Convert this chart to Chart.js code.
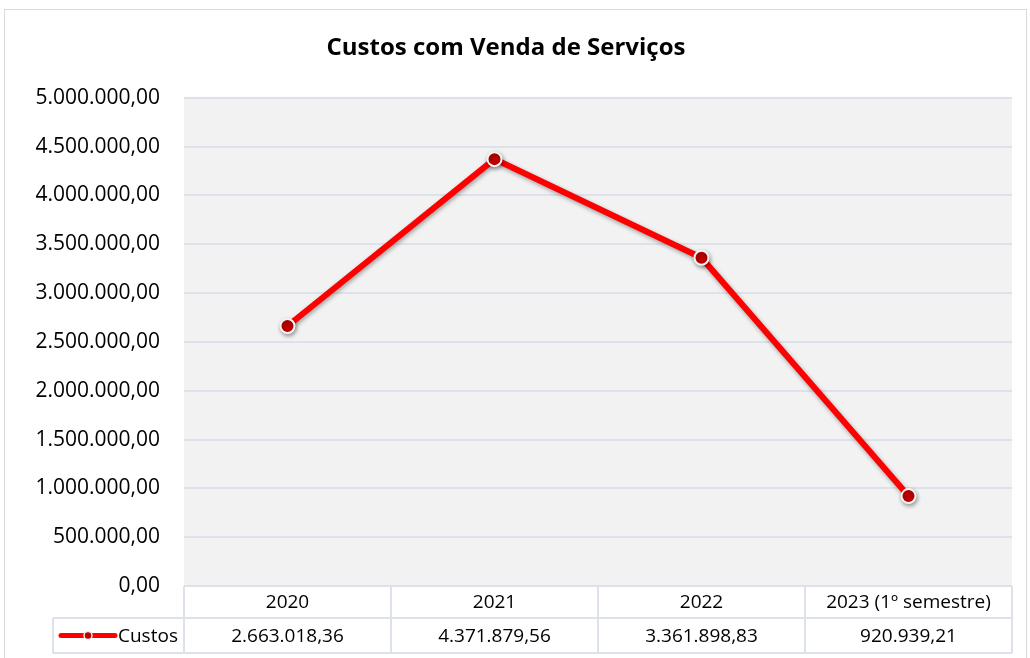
<!DOCTYPE html>
<html>
<head>
<meta charset="utf-8">
<script src="https://cdn.jsdelivr.net/npm/chart.js@4/dist/chart.umd.min.js"></script>
<style>
  body { margin: 0; background: #fff; }
  #wrap { position: relative; width: 1030px; height: 658px; }
</style>
</head>
<body>
<div id="wrap"><canvas id="chartCanvas" width="1030" height="658"></canvas></div>
<script>
const categories = ["2020", "2021", "2022", "2023 (1º semestre)"];
const custos = [2663018.36, 4371879.56, 3361898.83, 920939.21];
const seriesName = "Custos";
const yMin = 0;
const yMax = 5000000;
const yStep = 500000;

const textFont = "'Open Sans', 'Noto Sans', sans-serif";
const gridColor = "#dde1e9";

// 1.234.567,89
function formatBR(v) {
  let parts = v.toFixed(2).split(".");
  let intPart = parts[0].replace(/\B(?=(\d{3})+(?!\d))/g, ".");
  return intPart + "," + parts[1];
}

const backgroundPlugin = {
  id: "plotBackground",
  beforeDraw(chart) {
    const ctx = chart.ctx;
    const a = chart.chartArea;
    ctx.save();
    ctx.fillStyle = "#ffffff";
    ctx.fillRect(0, 0, chart.width, chart.height);
    ctx.strokeStyle = "#d9d9d9";
    ctx.lineWidth = 1;
    ctx.strokeRect(4.5, 9.5, 1022, 660);
    ctx.fillStyle = "#f2f2f2";
    ctx.fillRect(a.left, a.top, a.right - a.left, a.bottom - a.top);
    ctx.restore();
  }
};

const shadowPlugin = {
  id: "pointShadow",
  beforeDatasetDraw(chart) {
    chart.ctx.save();
    chart.ctx.shadowColor = "rgba(0,0,0,0.35)";
    chart.ctx.shadowBlur = 4;
    chart.ctx.shadowOffsetX = 1;
    chart.ctx.shadowOffsetY = 2;
  },
  afterDatasetDraw(chart) {
    chart.ctx.restore();
  }
};

// data table under the plot, columns follow the x scale
const tablePlugin = {
  id: "dataTable",
  afterDraw(chart) {
    const ctx = chart.ctx;
    const a = chart.chartArea;
    const xs = chart.scales.x;
    const n = categories.length;
    const colW = (a.right - a.left) / n;
    const row1Top = a.bottom;
    const row1Bot = a.bottom + 32;
    const row2Bot = a.bottom + 67;
    const legendLeft = 53;

    ctx.save();
    ctx.strokeStyle = gridColor;
    ctx.lineWidth = 2;
    ctx.beginPath();
    ctx.moveTo(a.left, row1Top);
    ctx.lineTo(a.right, row1Top);
    ctx.moveTo(legendLeft, row1Bot);
    ctx.lineTo(a.right, row1Bot);
    ctx.moveTo(legendLeft, row2Bot);
    ctx.lineTo(a.right, row2Bot);
    ctx.moveTo(legendLeft, row1Bot);
    ctx.lineTo(legendLeft, row2Bot);
    for (let i = 0; i <= n; i++) {
      const x = a.left + colW * i;
      ctx.moveTo(x, row1Top);
      ctx.lineTo(x, row2Bot);
    }
    ctx.stroke();

    ctx.fillStyle = "#000000";
    ctx.font = "19px " + textFont;
    ctx.textAlign = "center";
    ctx.textBaseline = "middle";
    for (let i = 0; i < n; i++) {
      const cx = xs.getPixelForValue(i);
      ctx.fillText(categories[i], cx, (row1Top + row1Bot) / 2 + 1);
      ctx.fillText(formatBR(custos[i]), cx, (row1Bot + row2Bot) / 2 + 1);
    }

    // legend key
    const ly = (row1Bot + row2Bot) / 2;
    ctx.strokeStyle = "#ff0000";
    ctx.lineWidth = 5;
    ctx.lineCap = "round";
    ctx.beginPath();
    ctx.moveTo(61, ly);
    ctx.lineTo(115, ly);
    ctx.stroke();
    ctx.beginPath();
    ctx.arc(88, ly, 4, 0, Math.PI * 2);
    ctx.fillStyle = "#c00000";
    ctx.fill();
    ctx.lineWidth = 1.5;
    ctx.strokeStyle = "#eeeeee";
    ctx.stroke();
    ctx.fillStyle = "#000000";
    ctx.textAlign = "left";
    ctx.fillText(seriesName, 118, ly + 1);
    ctx.restore();
  }
};

new Chart(document.getElementById("chartCanvas"), {
  type: "line",
  data: {
    labels: categories,
    datasets: [
      {
        label: seriesName,
        data: custos,
        borderColor: "#ff0000",
        borderWidth: 6,
        pointRadius: 7,
        pointBackgroundColor: "#c00000",
        pointBorderColor: "#f4f4f4",
        pointBorderWidth: 2,
        tension: 0,
      },
    ],
  },
  options: {
    responsive: false,
    animation: false,
    devicePixelRatio: 1,
    layout: {
      padding: { left: 0, right: 18, top: 0, bottom: 72 },
    },
    plugins: {
      legend: { display: false },
      tooltip: { enabled: false },
      title: {
        display: true,
        text: "Custos com Venda de Serviços",
        color: "#000000",
        font: { family: textFont, size: 24, weight: "bold" },
        padding: { top: 34, bottom: 35 },
      },
    },
    scales: {
      x: {
        display: false,
        offset: true,
      },
      y: {
        min: yMin,
        max: yMax,
        afterFit(scale) {
          scale.width = 184;
        },
        border: { display: false },
        grid: { color: gridColor, lineWidth: 2, drawTicks: false },
        ticks: {
          stepSize: yStep,
          padding: 24,
          color: "#000000",
          font: { family: textFont, size: 21 },
          callback: (v) => formatBR(v),
        },
      },
    },
  },
  plugins: [backgroundPlugin, shadowPlugin, tablePlugin],
});
</script>
</body>
</html>
